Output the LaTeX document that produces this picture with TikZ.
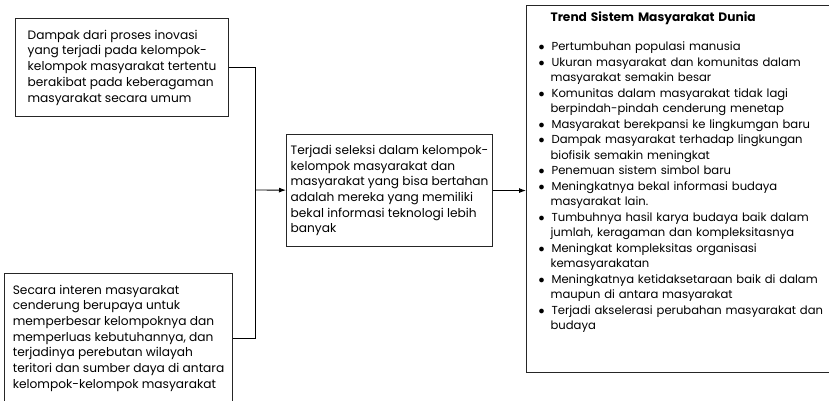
\documentclass[tikz,border=0pt]{standalone}
\usepackage{fontspec}
\setmainfont{Poppins}
\usetikzlibrary{arrows.meta,positioning,calc}

\begin{document}
\begin{tikzpicture}[x=1pt, y=-1pt,
  box/.style={rectangle, draw=black!85, line width=1.1pt, align=left, inner sep=0pt,
    anchor=north west, font=\fontsize{12.2}{15.7}\selectfont},
  link/.style={draw=black, line width=0.9pt},
  tip/.style={-{Latex[length=7pt,width=5pt]}}
]
\useasboundingbox (0,0) rectangle (829,401);
\clip (0,0) rectangle (829,401);

\node[box, minimum width=213pt, minimum height=98pt] (dampak) at (15,18) {
  Dampak dari proses inovasi\\
  yang terjadi pada kelompok-\\
  kelompok masyarakat tertentu\\
  berakibat pada keberagaman\\
  masyarakat secara umum
};

\node[box, minimum width=228pt, minimum height=129pt] (interen) at (4,273) {
  Secara interen masyarakat\\
  cenderung berupaya untuk\\
  memperbesar kelompoknya dan\\
  memperluas kebutuhannya, dan\\
  terjadinya perebutan wilayah\\
  teritori dan sumber daya di antara\\
  kelompok-kelompok masyarakat
};

\node[box, minimum width=206pt, minimum height=112pt] (seleksi) at (286,134) {
  Terjadi seleksi dalam kelompok-\\
  kelompok masyarakat dan\\
  masyarakat yang bisa bertahan\\
  adalah mereka yang memiliki\\
  bekal informasi teknologi lebih\\
  banyak
};

\node[box, text width=300pt, inner xsep=12pt, inner ysep=6pt,
  font=\fontsize{11.6}{15.5}\selectfont] (trend) at (526,5) {
  \hspace*{12pt}{\fontsize{12.2}{15.5}\selectfont\bfseries Trend Sistem Masyarakat Dunia}\par
  \vspace{14pt}
  \begin{list}{$\bullet$}{\leftmargin=12pt \labelwidth=5pt \labelsep=7pt
      \itemsep=0pt \parsep=0pt \topsep=0pt \partopsep=0pt}
  \item Pertumbuhan populasi manusia
  \item Ukuran masyarakat dan komunitas dalam\\ masyarakat semakin besar
  \item Komunitas dalam masyarakat tidak lagi\\ berpindah-pindah cenderung menetap
  \item Masyarakat berekpansi ke lingkumgan baru
  \item Dampak masyarakat terhadap lingkungan\\ biofisik semakin meningkat
  \item Penemuan sistem simbol baru
  \item Meningkatnya bekal informasi budaya\\ masyarakat lain.
  \item Tumbuhnya hasil karya budaya baik dalam\\ jumlah, keragaman dan kompleksitasnya
  \item Meningkat kompleksitas organisasi\\ kemasyarakatan
  \item Meningkatnya ketidaksetaraan baik di dalam\\ maupun di antara masyarakat
  \item Terjadi akselerasi perubahan masyarakat dan\\ budaya\rule[-37pt]{0pt}{37pt}
  \end{list}
};

\coordinate (simpul) at (255,190);
\draw[link] (dampak) -| (simpul);
\draw[link] (interen) -| (simpul);
\draw[link, tip] (simpul) -- (seleksi);
\draw[link, tip] (seleksi.east) -- (seleksi.east -| trend.west);

\end{tikzpicture}
\end{document}
